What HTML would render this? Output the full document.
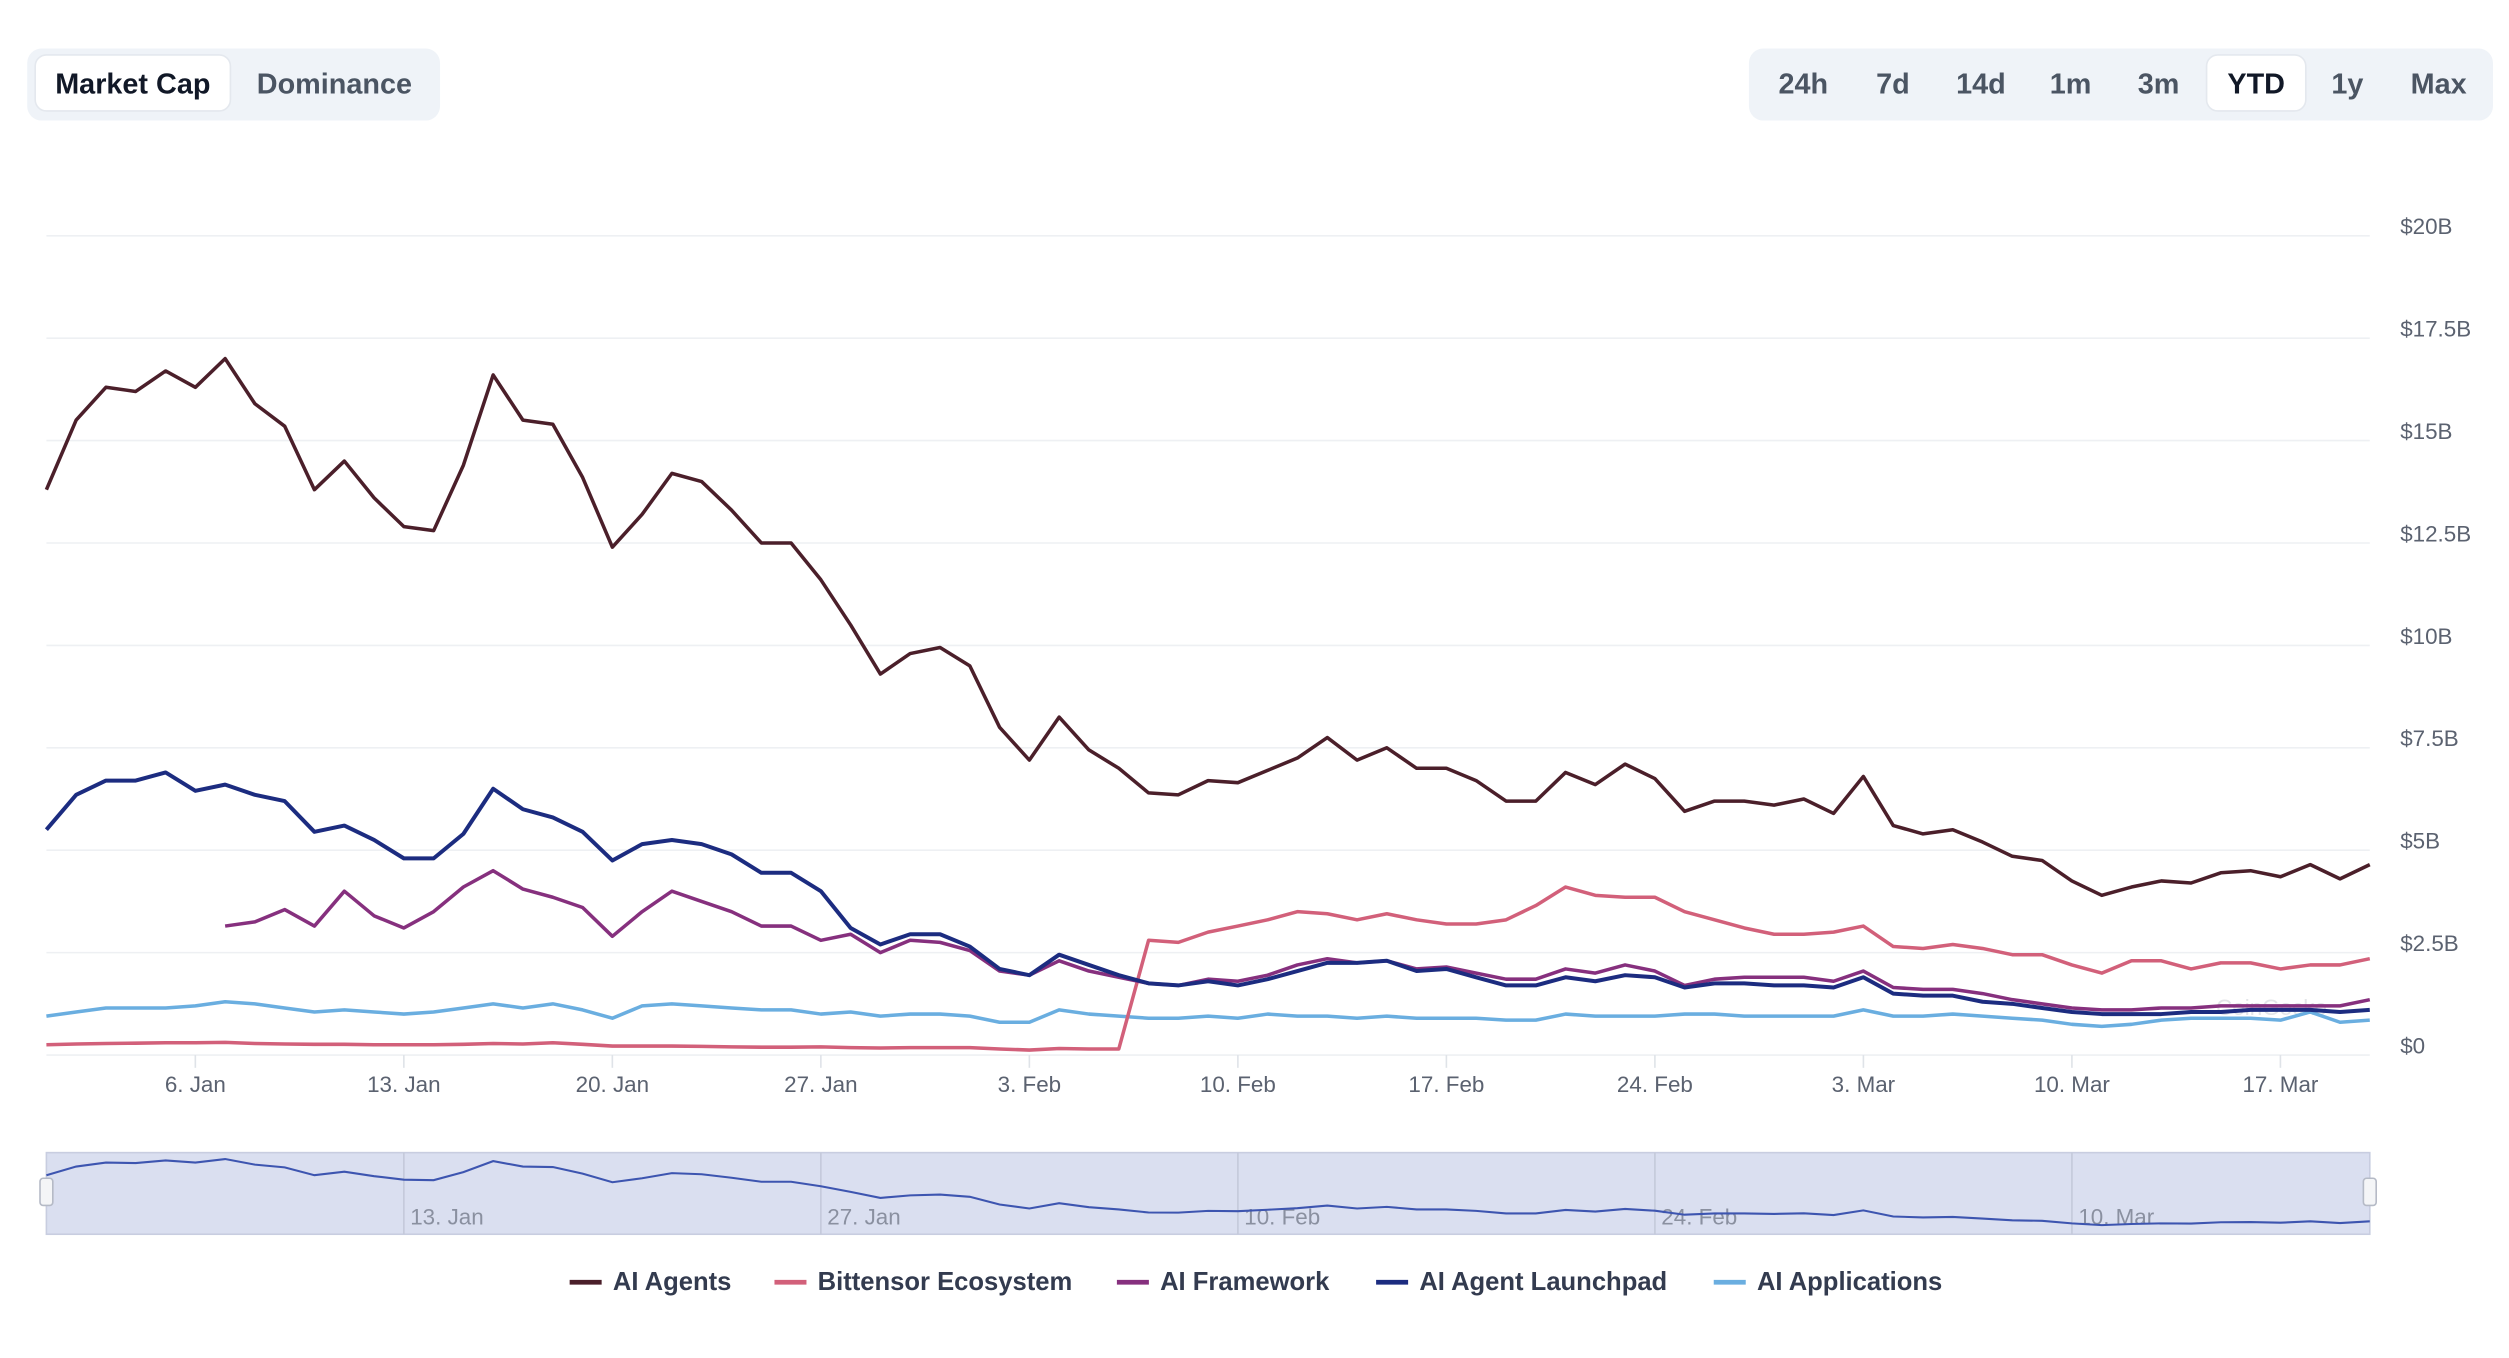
<!DOCTYPE html>
<html><head><meta charset="utf-8"><style>
html,body{margin:0;padding:0;background:#fff;}
svg{display:block;font-family:"Liberation Sans",sans-serif;}
</style></head><body>
<svg id="chart" width="2509" height="1358" viewBox="0 0 1568 848" xmlns="http://www.w3.org/2000/svg">
  <g>
    <rect x="17" y="30" width="258" height="45" rx="9" fill="#eff3f8"/>
    <rect x="22" y="34" width="122" height="35" rx="7" fill="#fff" stroke="#e4e8ee"/>
    <text x="83" y="58" text-anchor="middle" font-size="18" font-weight="bold" fill="#111827">Market Cap</text>
    <text x="209" y="58" text-anchor="middle" font-size="18" font-weight="bold" fill="#4b5563">Dominance</text>
  </g>
  <g>
    <rect x="1093" y="30" width="465" height="45" rx="9" fill="#eff3f8"/>
    <rect x="1379" y="34" width="62" height="35" rx="7" fill="#fff" stroke="#e4e8ee"/>
    <text x="1127" y="58" text-anchor="middle" font-size="18" font-weight="bold" fill="#4b5563">24h</text>
    <text x="1183" y="58" text-anchor="middle" font-size="18" font-weight="bold" fill="#4b5563">7d</text>
    <text x="1238" y="58" text-anchor="middle" font-size="18" font-weight="bold" fill="#4b5563">14d</text>
    <text x="1294" y="58" text-anchor="middle" font-size="18" font-weight="bold" fill="#4b5563">1m</text>
    <text x="1349" y="58" text-anchor="middle" font-size="18" font-weight="bold" fill="#4b5563">3m</text>
    <text x="1410" y="58" text-anchor="middle" font-size="18" font-weight="bold" fill="#111827">YTD</text>
    <text x="1467" y="58" text-anchor="middle" font-size="18" font-weight="bold" fill="#4b5563">1y</text>
    <text x="1524" y="58" text-anchor="middle" font-size="18" font-weight="bold" fill="#4b5563">Max</text>
  </g>
  <g id="grid"></g>
  <g id="series"></g>
  <g id="nav"></g>
  <g id="legend"></g>
</svg>
<script>
const yTicks=[0,2.5,5,7.5,10,12.5,15,17.5,20];
const yTickLabels=["$0","$2.5B","$5B","$7.5B","$10B","$12.5B","$15B","$17.5B","$20B"];
const xTickDays=[5,12,19,26,33,40,47,54,61,68,75];
const xTickLabels=["6. Jan","13. Jan","20. Jan","27. Jan","3. Feb","10. Feb","17. Feb","24. Feb","3. Mar","10. Mar","17. Mar"];
const navTickDays=[12,26,40,54,68];
const navTickLabels=["13. Jan","27. Jan","10. Feb","24. Feb","10. Mar"];
const seriesNames=["AI Agents","Bittensor Ecosystem","AI Framework","AI Agent Launchpad","AI Applications"];
const seriesColors=["#4b1f2a","#d2607a","#86307e","#1c2c80","#6aaee0"];
const aiAgents=[13.8,15.5,16.3,16.2,16.7,16.3,17.0,15.9,15.35,13.8,14.5,13.6,12.9,12.8,14.4,16.6,15.5,15.4,14.1,12.4,13.2,14.2,14.0,13.3,12.5,12.5,11.6,10.5,9.3,9.8,9.95,9.5,8.0,7.2,8.25,7.45,7.0,6.4,6.35,6.7,6.65,6.95,7.25,7.75,7.2,7.5,7.0,7.0,6.7,6.2,6.2,6.9,6.6,7.1,6.75,5.95,6.2,6.2,6.1,6.25,5.9,6.8,5.6,5.4,5.5,5.2,4.85,4.75,4.25,3.9,4.1,4.25,4.2,4.45,4.5,4.35,4.65,4.3,4.65];
const bittensor=[0.25,0.27,0.28,0.29,0.3,0.3,0.31,0.28,0.27,0.26,0.26,0.25,0.25,0.25,0.26,0.28,0.27,0.3,0.26,0.22,0.22,0.22,0.21,0.2,0.19,0.19,0.2,0.18,0.17,0.18,0.18,0.18,0.15,0.12,0.16,0.15,0.15,2.8,2.75,3.0,3.15,3.3,3.5,3.45,3.3,3.45,3.3,3.2,3.2,3.3,3.65,4.1,3.9,3.85,3.85,3.5,3.3,3.1,2.95,2.95,3.0,3.15,2.65,2.6,2.7,2.6,2.45,2.45,2.2,2.0,2.3,2.3,2.1,2.25,2.25,2.1,2.2,2.2,2.35];
const aiFramework=[null,null,null,null,null,null,3.15,3.25,3.55,3.15,4.0,3.4,3.1,3.5,4.1,4.5,4.05,3.85,3.6,2.9,3.5,4.0,3.75,3.5,3.15,3.15,2.8,2.95,2.5,2.8,2.75,2.55,2.05,1.95,2.3,2.05,1.9,1.75,1.7,1.85,1.8,1.95,2.2,2.35,2.25,2.3,2.1,2.15,2.0,1.85,1.85,2.1,2.0,2.2,2.05,1.7,1.85,1.9,1.9,1.9,1.8,2.05,1.65,1.6,1.6,1.5,1.35,1.25,1.15,1.1,1.1,1.15,1.15,1.2,1.2,1.2,1.2,1.2,1.35];
const launchpad=[5.5,6.35,6.7,6.7,6.9,6.45,6.6,6.35,6.2,5.45,5.6,5.25,4.8,4.8,5.4,6.5,6.0,5.8,5.45,4.75,5.15,5.25,5.15,4.9,4.45,4.45,4.0,3.1,2.7,2.95,2.95,2.65,2.1,1.95,2.45,2.2,1.95,1.75,1.7,1.8,1.7,1.85,2.05,2.25,2.25,2.3,2.05,2.1,1.9,1.7,1.7,1.9,1.8,1.95,1.9,1.65,1.75,1.75,1.7,1.7,1.65,1.9,1.5,1.45,1.45,1.3,1.25,1.15,1.05,1.0,1.0,1.0,1.05,1.05,1.1,1.1,1.1,1.05,1.1];
const aiApplications=[0.95,1.05,1.15,1.15,1.15,1.2,1.3,1.25,1.15,1.05,1.1,1.05,1.0,1.05,1.15,1.25,1.15,1.25,1.1,0.9,1.2,1.25,1.2,1.15,1.1,1.1,1.0,1.05,0.95,1.0,1.0,0.95,0.8,0.8,1.1,1.0,0.95,0.9,0.9,0.95,0.9,1.0,0.95,0.95,0.9,0.95,0.9,0.9,0.9,0.85,0.85,1.0,0.95,0.95,0.95,1.0,1.0,0.95,0.95,0.95,0.95,1.1,0.95,0.95,1.0,0.95,0.9,0.85,0.75,0.7,0.75,0.85,0.9,0.9,0.9,0.85,1.05,0.8,0.85];
const allSeries=[aiAgents,bittensor,aiFramework,launchpad,aiApplications];

const NS="http://www.w3.org/2000/svg";
const X0=29,X1=1481,DAYS=78,Y0=659,Y1=147,VMAX=20;
function xs(d){return X0+(X1-X0)*d/DAYS;}
function ys(v){return Y0-(Y0-Y1)*v/VMAX;}
function navY(v){return 724+(17-v)*3.15;}
function mk(tag,attrs,parent){const e=document.createElementNS(NS,tag);for(const k in attrs)e.setAttribute(k,attrs[k]);parent.appendChild(e);return e;}

const grid=document.getElementById('grid');
yTicks.forEach((t,i)=>{
  const l=mk('line',{x1:X0,x2:X1,y1:ys(t),y2:ys(t),stroke:'#eef0f3','stroke-width':1},grid);
  
  
  const tx=mk('text',{x:1500,y:ys(t)-1,'font-size':14,fill:'#5b6270'},grid);
  
  
  tx.textContent=yTickLabels[i];
});
xTickDays.forEach((d,i)=>{
  const l=mk('line',{x1:xs(d),x2:xs(d),y1:Y0,y2:Y0+8,stroke:'#dfe3e8'},grid);
  
  
  const tx=mk('text',{x:xs(d),y:682,'text-anchor':'middle','font-size':14,fill:'#5b6270'},grid);
  
  
  tx.textContent=xTickLabels[i];
});
const wm=mk('text',{x:1385,y:634,'font-size':14,fill:'#e3e5e8'},grid);


wm.textContent='CoinGecko';

const sg=document.getElementById('series');
[4,1,2,3,0].forEach(si=>{
  const arr=allSeries[si];let d='';let pen=false;
  arr.forEach((v,i)=>{if(v===null){pen=false;return;}d+=(pen?'L':'M')+xs(i).toFixed(1)+','+ys(v).toFixed(1);pen=true;});
  const p=mk('path',{d:d,fill:'none',stroke:seriesColors[si],'stroke-width':si===3?2.5:2.2,'stroke-linejoin':'round'},sg);
  
  
});

const nav=document.getElementById('nav');
const nb=mk('rect',{x:X0,y:720,width:X1-X0,height:51,fill:'#dadff0',stroke:'#c8cde0'},nav);


navTickDays.forEach((d,i)=>{
  const l=mk('line',{x1:xs(d),x2:xs(d),y1:720,y2:771,stroke:'#c4c9da'},nav);
  
  
  const tx=mk('text',{x:xs(d)+4,y:765,'font-size':14,fill:'#8a90a0'},nav);
  
  
  tx.textContent=navTickLabels[i];
});
let nd='';aiAgents.forEach((v,i)=>{nd+=(i?'L':'M')+xs(i).toFixed(1)+','+navY(v).toFixed(1);});
const np=mk('path',{d:nd,fill:'none',stroke:'#3d55b0','stroke-width':1.3},nav);


[X0,X1].forEach((hx,i)=>{
  const h=mk('rect',{x:hx-4,y:736,width:8,height:17,rx:2,fill:'#f4f5f7',stroke:'#b5bac6'},nav);
  
  
});

const lg=document.getElementById('legend');
const legX=[356,484,698,860,1071];
seriesNames.forEach((n,i)=>{
  const g=mk('g',{},lg);
  
  
  mk('line',{x1:legX[i],x2:legX[i]+20,y1:801,y2:801,stroke:seriesColors[i],'stroke-width':3},g);
  const t=mk('text',{x:legX[i]+27,y:806,'font-size':16,'font-weight':'bold',fill:'#333b4f'},g);
  t.textContent=n;
});
</script>
</body></html>
